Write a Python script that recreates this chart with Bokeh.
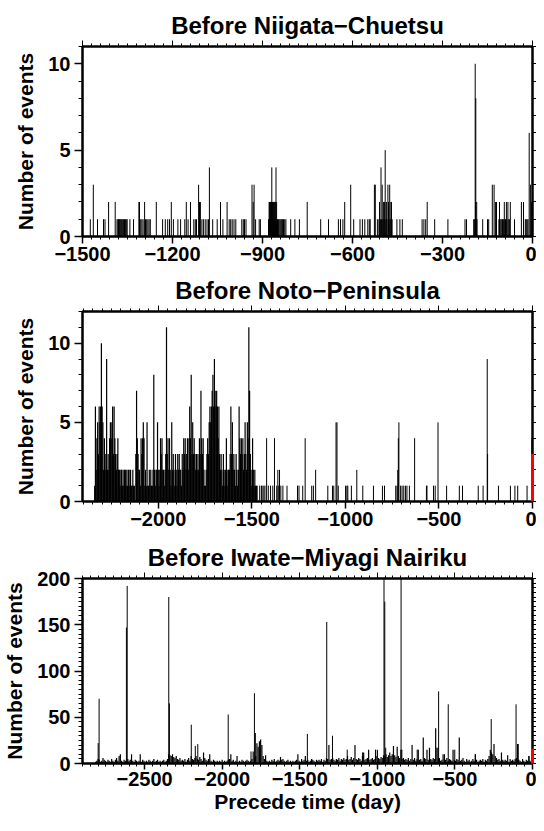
from bokeh.plotting import figure
from bokeh.models import Range1d, LinearAxis, SingleIntervalTicker, CustomJSTickFormatter, ColumnDataSource, Spacer
from bokeh.layouts import column
from bokeh.embed import file_html
from bokeh.resources import INLINE

# ---------------- data ----------------
titles = ["Before Niigata\u2212Chuetsu", "Before Noto\u2212Peninsula", "Before Iwate\u2212Miyagi Nairiku"]
y_label = "Number of events"
x_label = "Precede time (day)"

niigata_days = [
    -1474, -1464, -1450, -1430, -1425, -1413, -1391,
    -1385, -1382, -1380, -1378, -1376, -1374, -1371, -1369, -1366, -1363, -1360, -1357, -1354, -1351,
    -1342, -1330, -1312, -1310,
    -1306, -1302, -1298, -1293, -1290, -1286, -1282, -1278, -1274,
    -1254, -1233, -1224, -1216, -1210, -1204, -1197, -1182, -1173, -1159, -1154, -1148, -1140,
    -1129, -1124, -1120, -1113, -1110, -1107, -1102, -1097, -1091, -1085, -1080, -1077,
    -1066, -1051, -1040, -1032, -1018, -1011, -1006, -1001, -995, -989,
    -969, -964, -960, -955, -935, -931, -928, -923, -911, -907,
    -880, -879, -878, -877, -876, -875, -874, -873, -872, -871, -870, -869, -868, -867, -866,
    -865, -864, -863, -862, -861, -860, -859, -858, -857, -856, -855, -854, -853, -852,
    -850, -847, -845, -842, -839, -836, -833, -830, -826, -822,
    -806, -792, -777, -751, -706, -680, -647, -640, -632, -626, -606, -596,
    -575, -567, -559, -549, -544, -541,
    -527, -524, -517, -512, -510, -507, -505, -503, -501, -499, -497, -495, -493, -491, -489,
    -487, -485, -482, -480, -478, -476, -474, -472, -470, -468,
    -452, -442, -434,
    -368, -362, -356, -351, -326, -282, -225, -220,
    -196, -193, -191, -190, -189, -188, -186, -185,
    -166, -150, -146, -134, -128, -123, -120,
    -112, -110, -108, -105, -102, -100, -97, -94, -92, -90, -87, -85, -82, -79, -77, -74,
    -60, -37, -30, -24, -21, -18, -15, -11, -7, -3,
]
niigata_counts = [
    1, 3, 1, 1, 1, 2, 2,
    1, 1, 1, 1, 1, 1, 1, 1, 1, 1, 1, 1, 1, 1,
    1, 1, 2, 2,
    1, 1, 1, 2, 1, 1, 1, 1, 1,
    2, 1, 1, 1, 1, 2, 1, 1, 1, 1, 2, 1, 2,
    1, 1, 1, 3, 2, 2, 1, 1, 1, 1, 1, 4,
    1, 1, 2, 1, 2, 1, 1, 1, 1, 1,
    1, 1, 1, 1, 3, 2, 3, 1, 1, 1,
    1, 1, 2, 1, 2, 2, 1, 2, 2, 1, 2, 4, 2, 2, 1,
    2, 2, 1, 2, 2, 1, 2, 1, 2, 1, 4, 1, 2, 1,
    1, 1, 1, 1, 1, 1, 1, 1, 1, 1,
    1, 1, 1, 2, 1, 1, 1, 1, 1, 2, 3, 1,
    1, 1, 1, 1, 1, 1,
    3, 3, 1, 1, 2, 1, 4, 1, 3, 1, 2, 1, 2, 5, 1,
    2, 1, 3, 2, 1, 3, 1, 2, 2, 1,
    1, 1, 1,
    1, 1, 1, 2, 1, 1, 1, 1,
    1, 1, 10, 2, 8, 1, 2, 1,
    1, 1, 1, 3, 3, 2, 2,
    1, 2, 1, 1, 1, 1, 1, 2, 1, 1, 2, 1, 2, 1, 1, 2,
    1, 2, 2, 1, 1, 1, 1, 6, 3, 2,
]

# Noto: dense part as 4-day bins starting at -2340, then individual days
noto_dense_start = -2340
noto_dense_step = 4
noto_dense_counts = [
    1, 6, 2, 4, 5, 3, 6, 5, 6, 10,
    6, 5, 2, 4, 3, 2, 9, 2, 3, 2,
    4, 5, 4, 5, 6, 3, 6, 4, 3, 2,
    3, 4, 2, 2, 1, 2, 2, 1, 2, 1,
    2, 2, 1, 2, 1, 2, 2, 1, 2, 1,
    1, 2, 1, 1, 0, 3, 7, 4, 3, 2,
    2, 1, 4, 3, 4, 5, 4, 1, 2, 1,
    5, 1, 1, 2, 1, 2, 1, 1, 2, 8,
    2, 1, 2, 2, 5, 2, 1, 2, 4, 3,
    4, 2, 2, 1, 2, 3, 11, 3, 4, 2,
    4, 2, 1, 5, 2, 3, 2, 1, 3, 2,
    1, 3, 2, 3, 2, 2, 1, 3, 2, 4,
    3, 4, 2, 3, 4, 2, 4, 6, 4, 8,
    3, 5, 3, 4, 3, 2, 3, 2, 3, 2,
    4, 3, 7, 4, 3, 4, 2, 1, 1, 2,
    3, 4, 3, 5, 6, 5, 6, 7, 8, 6,
    9, 7, 6, 7, 6, 4, 6, 3, 2, 3,
    2, 1, 3, 2, 1, 2, 4, 2, 1, 2,
    2, 3, 6, 3, 5, 2, 3, 2, 1, 3,
    2, 1, 2, 6, 4, 3, 4, 3, 4, 2,
    3, 5, 3, 2, 5, 4, 11, 7, 3, 2,
    1, 4, 2, 1, 2, 1, 1, 1,
]
noto_sparse_days = [
    -1458, -1449, -1445, -1436, -1430, -1421, -1412, -1400, -1388, -1379, -1367, -1361, -1356, -1352,
    -1345, -1334, -1312, -1256, -1248, -1228, -1215, -1180, -1171, -1159, -1094, -1069, -1062,
    -1050, -1045, -1038, -999, -992, -987, -968, -939, -907, -850, -802, -791, -731, -724, -720,
    -717, -714, -705, -697, -688, -679, -671, -658, -630, -567, -564, -529, -520, -505, -459,
    -391, -374, -290, -264, -242, -240, -182, -118, -94, -79, -29, -3,
]
noto_sparse_counts = [
    1, 1, 1, 1, 1, 4, 1, 1, 1, 4, 1, 2, 1, 2,
    1, 1, 1, 1, 1, 1, 4, 1, 1, 2, 1, 1, 1,
    5, 5, 1, 1, 1, 1, 1, 2, 1, 1, 1, 1, 1, 1, 2,
    4, 5, 1, 1, 1, 1, 1, 1, 4, 1, 1, 1, 1, 5, 1,
    1, 1, 1, 1, 9, 3, 1, 1, 1, 1, 1, 4,
]
noto_main_day = [0]
noto_main_count = [3]

# Iwate-Miyagi: background as 8-day bins from -2816, plus individual spikes
iwate_base_start = -2816
iwate_base_step = 8
iwate_base_counts = [
    2, 3, 5, 4, 2, 3, 6, 4, 3, 2,
    4, 3, 2, 5, 3, 2, 4, 6, 3, 8,
    10, 3, 2, 4, 3, 2, 5, 3, 4, 10,
    3, 2, 4, 3, 2, 3, 10, 2, 4, 3,
    2, 3, 2, 4, 3, 2, 3, 5, 2, 3,
    4, 2, 3, 2, 3, 4, 2, 3, 5, 10,
    9, 8, 10, 7, 6, 8, 5, 4, 6, 3,
    4, 3, 5, 2, 4, 6, 3, 8, 5, 4,
    6, 8, 5, 4, 7, 5, 3, 12, 6, 4,
    3, 5, 10, 3, 2, 4, 3, 2, 3, 2,
    3, 2, 4, 2, 3, 2, 3, 4, 5, 10,
    3, 4, 2, 3, 8, 2, 3, 2, 4, 3,
    2, 3, 4, 3, 2, 3, 5, 13, 6, 8,
    22, 18, 24, 26, 20, 8, 5, 9, 3, 2,
    3, 2, 4, 3, 5, 2, 3, 4, 3, 7,
    4, 5, 3, 2, 3, 4, 2, 3, 2, 3,
    2, 3, 4, 10, 3, 2, 5, 3, 4, 8,
    3, 4, 2, 3, 5, 4, 3, 2, 4, 3,
    4, 3, 5, 2, 4, 3, 6, 5, 20, 4,
    5, 6, 4, 3, 5, 4, 6, 3, 5, 4,
    6, 4, 5, 8, 4, 5, 7, 4, 6, 20,
    5, 4, 6, 5, 3, 8, 12, 4, 5, 6,
    15, 4, 5, 6, 4, 5, 8, 15, 6, 5,
    7, 6, 9, 8, 10, 7, 9, 12, 8, 10,
    19, 9, 7, 18, 8, 6, 15, 5, 6, 4,
    5, 4, 6, 3, 5, 20, 4, 6, 3, 5,
    15, 4, 5, 3, 28, 6, 5, 15, 4, 17,
    5, 4, 6, 5, 38, 17, 5, 6, 3, 4,
    10, 5, 4, 6, 3, 5, 4, 3, 15, 4,
    3, 5, 4, 28, 3, 4, 6, 3, 2, 5,
    3, 4, 2, 3, 5, 3, 10, 4, 2, 3,
    4, 3, 5, 2, 4, 3, 5, 8, 15, 12,
    10, 21, 8, 6, 4, 5, 3, 12, 4, 3,
    4, 3, 9, 2, 5, 3, 4, 3, 5, 6,
    21, 4, 3, 2, 5, 3, 2, 4, 3, 8,
    3, 2,
]
iwate_spike_days = [
    -2799, -2793, -2617, -2612, -2344, -2340, -2199, -2173, -2157, -1961, -1814, -1792, -1786,
    -1451, -1326, -1289, -1194, -1095, -1012, -957, -952, -946, -847, -842, -743, -609, -605,
    -567, -543, -501, -369, -266, -106, -92, -22,
]
iwate_spike_counts = [
    22, 70, 147, 192, 180, 65, 42, 19, 21, 53, 13, 76, 33,
    32, 153, 30, 15, 12, 15, 212, 175, 17, 208, 15, 15, 17, 78,
    10, 64, 15, 10, 48, 64, 21, 8,
]
iwate_main_day = [0]
iwate_main_count = [16]

# ---------------- drawing ----------------
FONT = "Liberation Sans"
MINUS_FMT = "return tick < 0 ? '\\u2212' + Math.abs(tick) : String(tick);"
FIG_W = 536


def make_panel(title, xr, yr, xint, yint, y_minor, height, top, bottom, xlabel=None,
               xlab_standoff=3, xtick_out=7):
    p = figure(title=title, x_range=Range1d(*xr), y_range=Range1d(*yr),
               width=FIG_W, height=height,
               min_border_left=72, min_border_right=0,
               min_border_top=top, min_border_bottom=bottom,
               output_backend="svg", toolbar_location=None)
    p.xgrid.visible = False
    p.ygrid.visible = False
    p.outline_line_color = "black"
    p.outline_line_width = 2
    p.outline_line_alpha = 1
    p.background_fill_color = "white"
    p.border_fill_color = "white"

    p.title.text_font = FONT
    p.title.text_font_style = "bold"
    p.title.text_font_size = "24px"
    p.title.text_color = "black"
    p.title.align = "center"
    p.title.standoff = 4

    xa = p.xaxis[0]
    xa.ticker = SingleIntervalTicker(interval=xint, num_minor_ticks=10)
    xa.formatter = CustomJSTickFormatter(code=MINUS_FMT)
    xa.major_tick_in = 0
    xa.major_tick_out = xtick_out
    xa.minor_tick_in = 0
    xa.minor_tick_out = 3
    xa.axis_line_width = 2
    xa.major_tick_line_width = 1.5
    xa.major_tick_line_color = "black"
    xa.minor_tick_line_color = "black"
    xa.axis_line_color = "black"
    xa.major_label_text_font = FONT
    xa.major_label_text_font_style = "bold"
    xa.major_label_text_font_size = "20px"
    xa.major_label_text_color = "black"
    xa.major_label_standoff = xlab_standoff
    if xlabel:
        xa.axis_label = xlabel
        xa.axis_label_text_font = FONT
        xa.axis_label_text_font_style = "bold"
        xa.axis_label_text_font_size = "21px"
        xa.axis_label_text_color = "black"
        xa.axis_label_standoff = 1

    ya = p.yaxis[0]
    ya.ticker = SingleIntervalTicker(interval=yint, num_minor_ticks=y_minor)
    ya.major_tick_in = 0
    ya.major_tick_out = 8
    ya.minor_tick_in = 0
    ya.minor_tick_out = 4
    ya.major_tick_line_width = 1.5
    ya.major_tick_line_color = "black"
    ya.minor_tick_line_color = "black"
    ya.axis_line_width = 2
    ya.axis_line_color = "black"
    ya.major_label_text_font = FONT
    ya.major_label_text_font_style = "bold"
    ya.major_label_text_font_size = "20px"
    ya.major_label_text_color = "black"
    ya.major_label_standoff = 4
    ya.axis_label = y_label
    ya.axis_label_text_font = FONT
    ya.axis_label_text_font_style = "bold"
    ya.axis_label_text_font_size = "21px"
    ya.axis_label_text_color = "black"
    ya.axis_label_standoff = 8

    top_ax = LinearAxis(ticker=SingleIntervalTicker(interval=xint, num_minor_ticks=10),
                        major_label_text_font_size="1px", major_label_text_color=None,
                        major_label_standoff=0,
                        major_tick_in=0, major_tick_out=6, minor_tick_in=0, minor_tick_out=3,
                        major_tick_line_color="black", minor_tick_line_color="black",
                        axis_line_width=2, axis_line_color="black")
    p.add_layout(top_ax, "above")
    right_ax = LinearAxis(ticker=SingleIntervalTicker(interval=yint, num_minor_ticks=y_minor),
                          major_label_text_font_size="1px", major_label_text_color=None,
                          major_label_standoff=0,
                          major_tick_in=0, major_tick_out=4, minor_tick_in=0, minor_tick_out=4,
                          major_tick_line_color="black", minor_tick_line_color="black",
                          axis_line_width=2, axis_line_color="black")
    p.add_layout(right_ax, "right")
    return p


def bars(p, days, counts, color="black", width=1.0, level="glyph"):
    src = ColumnDataSource(dict(x=list(days), y=list(counts)))
    p.segment(x0="x", y0=0, x1="x", y1="y", source=src, line_color=color, line_width=width,
              level=level)


p1 = make_panel(titles[0], (-1500, 0), (0, 11), 300, 5, 5, 261, 39, 32)
bars(p1, niigata_days, niigata_counts)

p2 = make_panel(titles[1], (-2405, 0), (0, 12), 500, 5, 5, 271, 43, 38)
dense_days = [noto_dense_start + noto_dense_step * i for i in range(len(noto_dense_counts))]
bars(p2, dense_days, noto_dense_counts, width=1.2)
bars(p2, noto_sparse_days, noto_sparse_counts)
bars(p2, noto_main_day, noto_main_count, color="red", width=3, level="overlay")

p3 = make_panel(titles[2], (-2900, 0), (0, 200), 500, 50, 10, 276, 30, 50, xlabel=x_label,
                xlab_standoff=2, xtick_out=6)
base_days = [iwate_base_start + iwate_base_step * i for i in range(len(iwate_base_counts))]
bars(p3, base_days, iwate_base_counts, width=1.2)
bars(p3, iwate_spike_days, iwate_spike_counts)
bars(p3, iwate_main_day, iwate_main_count, color="red", width=3, level="overlay")

layout = column(Spacer(width=FIG_W, height=7), p1, p2, p3, spacing=0)
open("out.html", "w", encoding="utf-8").write(file_html(layout, INLINE))
